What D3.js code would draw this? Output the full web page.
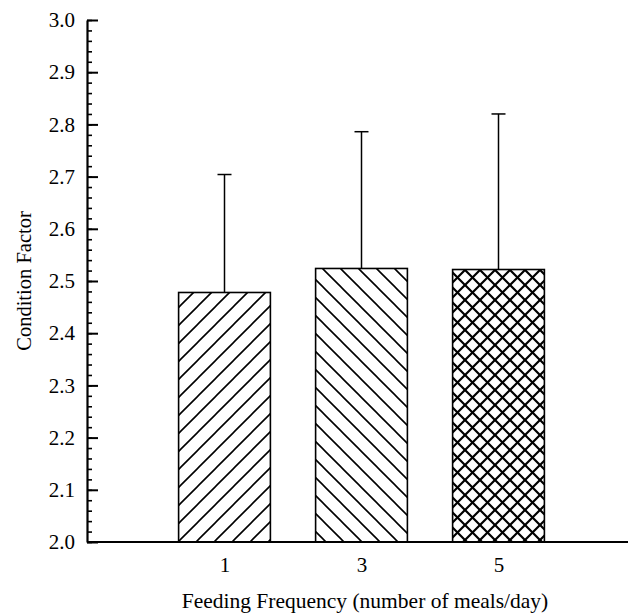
<!DOCTYPE html>
<html>
<head>
<meta charset="utf-8">
<script src="https://cdn.jsdelivr.net/npm/d3@7"></script>
<style>
  body { margin: 0; background: #fff; }
  text { font-family: "Liberation Serif", "Times New Roman", serif; fill: #000; }
</style>
</head>
<body>
<svg id="chart"></svg>
<script>
// data
const categories = ['1', '3', '5'];
const means = [2.478, 2.524, 2.522];
const errors = [0.226, 0.262, 0.298];
const yTicks = [2.0, 2.1, 2.2, 2.3, 2.4, 2.5, 2.6, 2.7, 2.8, 2.9, 3.0];
const patterns = ['hatchFwd', 'hatchBack', 'hatchCross'];

const width = 628, height = 614;
const margin = {top: 20, right: 0, bottom: 72, left: 87};

const svg = d3.select('#chart')
    .attr('width', width)
    .attr('height', height);

// hatch patterns
const defs = svg.append('defs');
function addPattern(id, dirs, s, sw) {
    const p = defs.append('pattern')
        .attr('id', id)
        .attr('patternUnits', 'userSpaceOnUse')
        .attr('width', s)
        .attr('height', s);
    p.append('rect').attr('width', s).attr('height', s).attr('fill', '#fff');
    dirs.forEach(dir => {
        p.append('path')
            .attr('d', dir === 'fwd'
                ? `M${-s / 2},${s / 2} L${s / 2},${-s / 2} M0,${s} L${s},0 M${s / 2},${1.5 * s} L${1.5 * s},${s / 2}`
                : `M${-s / 2},${s / 2} L${s / 2},${1.5 * s} M0,0 L${s},${s} M${s / 2},${-s / 2} L${1.5 * s},${s / 2}`)
            .attr('stroke', '#000')
            .attr('stroke-width', sw)
            .attr('fill', 'none');
    });
}
addPattern('hatchFwd', ['fwd'], 18, 1.6);
addPattern('hatchBack', ['back'], 18, 1.6);
addPattern('hatchCross', ['fwd', 'back'], 15, 2.2);

const y = d3.scaleLinear()
    .domain([2.0, 3.0])
    .range([height - margin.bottom, margin.top]);

const x = d3.scaleLinear()
    .domain([0, 3.95])
    .range([margin.left + 0.5, margin.left + 0.5 + 137 * 3.95]);

const barW = 0.67;

const chart = svg.append('g');

// bars
chart.selectAll('.bar')
    .data(means)
    .enter()
    .append('rect')
    .attr('class', 'bar')
    .attr('x', (d, i) => x(i + 1 - barW / 2))
    .attr('y', d => y(d))
    .attr('width', x(barW) - x(0))
    .attr('height', d => y(2.0) - y(d))
    .attr('fill', (d, i) => `url(#${patterns[i]})`)
    .attr('stroke', '#000')
    .attr('stroke-width', 1.6);

// upper error bars
chart.selectAll('.err')
    .data(means)
    .enter()
    .append('line')
    .attr('class', 'err')
    .attr('x1', (d, i) => x(i + 1))
    .attr('x2', (d, i) => x(i + 1))
    .attr('y1', d => y(d))
    .attr('y2', (d, i) => y(d + errors[i]))
    .attr('stroke', '#000')
    .attr('stroke-width', 1.5);

chart.selectAll('.cap')
    .data(means)
    .enter()
    .append('line')
    .attr('class', 'cap')
    .attr('x1', (d, i) => x(i + 1) - 7)
    .attr('x2', (d, i) => x(i + 1) + 7)
    .attr('y1', (d, i) => y(d + errors[i]))
    .attr('y2', (d, i) => y(d + errors[i]))
    .attr('stroke', '#000')
    .attr('stroke-width', 1.5);

// y axis: minor ticks every 0.02
const minor = d3.range(0, 51).map(i => 2 + i * 0.02);
svg.append('g')
    .attr('transform', `translate(${margin.left},0)`)
    .call(d3.axisLeft(y).tickValues(minor).tickSize(-5).tickSizeOuter(0).tickFormat(''))
    .call(g => g.select('.domain').remove())
    .call(g => g.selectAll('line').attr('stroke-width', 1.6));

svg.append('g')
    .attr('transform', `translate(${margin.left},0)`)
    .call(d3.axisLeft(y).tickValues(yTicks).tickSize(-11).tickSizeOuter(0).tickPadding(12).tickFormat(d3.format('.1f')))
    .call(g => g.select('.domain').attr('stroke-width', 2.2))
    .call(g => g.selectAll('line').attr('stroke-width', 2))
    .call(g => g.selectAll('text')
        .attr('font-size', 21)
        .attr('font-family', '"Liberation Serif", serif')
        .attr('fill', '#000'));

// x axis
svg.append('g')
    .attr('transform', `translate(0,${y(2.0)})`)
    .call(d3.axisBottom(x).tickValues([1, 2, 3]).tickSize(0).tickPadding(15)
        .tickFormat(d => categories[d - 1]))
    .call(g => g.select('.domain').attr('d', `M${x(0)},0H${width}`).attr('stroke-width', 2.2))
    .call(g => g.selectAll('text')
        .attr('font-size', 21)
        .attr('font-family', '"Liberation Serif", serif')
        .attr('fill', '#000'));

// axis titles
svg.append('text')
    .attr('x', 365)
    .attr('y', 608)
    .attr('text-anchor', 'middle')
    .attr('font-size', 21.5)
    .text('Feeding Frequency (number of meals/day)');

svg.append('text')
    .attr('transform', `translate(31,${(y(2) + y(3)) / 2}) rotate(-90)`)
    .attr('text-anchor', 'middle')
    .attr('font-size', 20.5)
    .text('Condition Factor');
</script>
</body>
</html>
